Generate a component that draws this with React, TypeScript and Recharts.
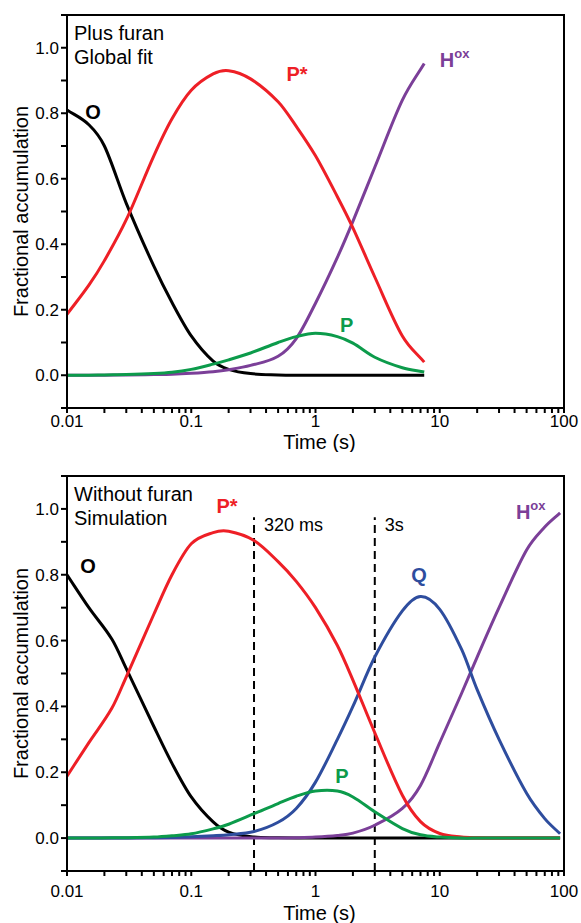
import React from 'react'
import {
  LineChart,
  Line,
  XAxis,
  YAxis,
  ReferenceArea,
  ReferenceLine,
  ReferenceDot,
} from 'recharts'

const FONT = '"Liberation Sans", Arial, Helvetica, sans-serif'
const RED = '#ee1f26'
const BLACK = '#000000'
const GREEN = '#0c9b4b'
const PURPLE = '#7b3f98'
const BLUE = '#2e4d9e'

// axis ticks (log x, linear y)
const X_TICKS = [
  0.01, 0.02, 0.03, 0.04, 0.05, 0.06, 0.07, 0.08, 0.09,
  0.1, 0.2, 0.3, 0.4, 0.5, 0.6, 0.7, 0.8, 0.9,
  1, 2, 3, 4, 5, 6, 7, 8, 9,
  10, 20, 30, 40, 50, 60, 70, 80, 90, 100,
]
const X_LABELS = [0.01, 0.1, 1, 10, 100]
const Y_TICKS = [-0.1, 0, 0.1, 0.2, 0.3, 0.4, 0.5, 0.6, 0.7, 0.8, 0.9, 1.0, 1.1]
const Y_LABELS = [0, 0.2, 0.4, 0.6, 0.8, 1.0]

// --- top panel: plus furan, global fit ---
const FIT_T = [0.01, 0.015, 0.02, 0.03, 0.05, 0.07, 0.1, 0.15, 0.2, 0.3, 0.5, 0.7, 1, 1.5, 2, 3, 5, 7.5]
const FIT_O = [0.81, 0.765, 0.7, 0.525, 0.333, 0.222, 0.12, 0.043, 0.018, 0.005, 0.001, 0, 0, 0, 0, 0, 0, 0]
const FIT_PSTAR = [0.186, 0.275, 0.35, 0.475, 0.67, 0.783, 0.87, 0.92, 0.93, 0.905, 0.835, 0.76, 0.67, 0.545, 0.45, 0.3, 0.12, 0.04]
const FIT_P = [0, 0, 0.001, 0.002, 0.005, 0.009, 0.018, 0.034, 0.047, 0.068, 0.1, 0.118, 0.128, 0.118, 0.098, 0.055, 0.023, 0.01]
const FIT_HOX = [0, 0, 0, 0.001, 0.002, 0.003, 0.006, 0.011, 0.017, 0.03, 0.058, 0.112, 0.22, 0.36, 0.47, 0.635, 0.84, 0.952]

// --- bottom panel: without furan, simulation ---
const SIM_T = [0.01, 0.015, 0.023, 0.03, 0.05, 0.07, 0.1, 0.15, 0.2, 0.32, 0.5, 0.7, 1, 1.5, 2, 3, 5, 7, 10, 15, 20, 30, 50, 70, 93]
const SIM_O = [0.8, 0.7, 0.604, 0.515, 0.339, 0.227, 0.125, 0.049, 0.018, 0.003, 0.001, 0, 0, 0, 0, 0, 0, 0, 0, 0, 0, 0, 0, 0, 0]
const SIM_PSTAR = [0.188, 0.29, 0.395, 0.49, 0.68, 0.8, 0.894, 0.928, 0.932, 0.904, 0.84, 0.78, 0.7, 0.585, 0.48, 0.32, 0.13, 0.05, 0.014, 0.003, 0.001, 0, 0, 0, 0]
const SIM_P = [0, 0, 0.001, 0.001, 0.003, 0.007, 0.013, 0.028, 0.042, 0.074, 0.105, 0.127, 0.143, 0.143, 0.125, 0.08, 0.029, 0.01, 0.003, 0, 0, 0, 0, 0, 0]
const SIM_Q = [0, 0, 0, 0, 0.001, 0.002, 0.004, 0.007, 0.01, 0.02, 0.048, 0.09, 0.17, 0.3, 0.4, 0.55, 0.69, 0.734, 0.695, 0.573, 0.451, 0.3, 0.136, 0.059, 0.013]
const SIM_HOX = [0, 0, 0, 0, 0, 0, 0, 0, 0, 0, 0, 0.001, 0.003, 0.008, 0.015, 0.039, 0.09, 0.16, 0.29, 0.44, 0.55, 0.7, 0.875, 0.945, 0.988]

// time markers in the simulation panel
const MARKERS = [
  { t: 0.32, text: '320 ms' },
  { t: 3, text: '3s' },
]

const fitData = FIT_T.map((t, i) => ({ t, o: FIT_O[i], pstar: FIT_PSTAR[i], p: FIT_P[i], hox: FIT_HOX[i] }))
const simData = SIM_T.map((t, i) => ({
  t, o: SIM_O[i], pstar: SIM_PSTAR[i], p: SIM_P[i], q: SIM_Q[i], hox: SIM_HOX[i],
}))

type Tag = { text: string; sup?: string; color: string; x: number; y: number; anchor?: 'start' | 'middle' }

const FIT_TAGS: Tag[] = [
  { text: 'O', color: BLACK, x: 0.0162, y: 0.805 },
  { text: 'P*', color: RED, x: 0.71, y: 0.92 },
  { text: 'H', sup: 'ox', color: PURPLE, x: 10, y: 0.964, anchor: 'start' },
  { text: 'P', color: GREEN, x: 1.78, y: 0.152 },
]
const SIM_TAGS: Tag[] = [
  { text: 'O', color: BLACK, x: 0.0148, y: 0.827 },
  { text: 'P*', color: RED, x: 0.194, y: 1.008 },
  { text: 'Q', color: BLUE, x: 6.8, y: 0.8 },
  { text: 'H', sup: 'ox', color: PURPLE, x: 41, y: 0.992, anchor: 'start' },
  { text: 'P', color: GREEN, x: 1.63, y: 0.188 },
]

// smooth cubic through the points, tangents from neighbouring points in screen x
// (a plain function spline, so uneven log spacing doesn't bend the curve)
function smoothX(context: any) {
  let xs: number[] = []
  let ys: number[] = []
  return {
    areaStart() {},
    areaEnd() {},
    lineStart() {
      xs = []
      ys = []
    },
    point(x: number, y: number) {
      xs.push(+x)
      ys.push(+y)
    },
    lineEnd() {
      const n = xs.length
      if (!n) return
      context.moveTo(xs[0], ys[0])
      if (n === 1) return
      const m = xs.map((_, i) => {
        const a = Math.max(0, i - 1)
        const b = Math.min(n - 1, i + 1)
        return (ys[b] - ys[a]) / (xs[b] - xs[a])
      })
      for (let i = 0; i < n - 1; i++) {
        const h = (xs[i + 1] - xs[i]) / 3
        context.bezierCurveTo(
          xs[i] + h, ys[i] + m[i] * h,
          xs[i + 1] - h, ys[i + 1] - m[i + 1] * h,
          xs[i + 1], ys[i + 1],
        )
      }
    },
  }
}

const tickStyle = { fill: '#000', fontSize: 17, fontFamily: FONT }

function YTitle({ viewBox }: any) {
  const cy = viewBox.y + viewBox.height / 2
  return (
    <text x={21} y={cy} transform={`rotate(-90, 21, ${cy})`} textAnchor="middle"
      dominantBaseline="central" fontSize={20} fontFamily={FONT} fill="#000">
      Fractional accumulation
    </text>
  )
}

function XTitle({ viewBox }: any) {
  return (
    <text x={viewBox.x + viewBox.width / 2 + 4} y={viewBox.y + viewBox.height - 3}
      textAnchor="middle" fontSize={20} fontFamily={FONT} fill="#000">
      Time (s)
    </text>
  )
}

function tagShape(tag: Tag) {
  return (props: any) => (
    <text x={props.cx} y={props.cy} textAnchor={tag.anchor ?? 'middle'} dominantBaseline="central"
      fontSize={20} fontWeight="bold" fontFamily={FONT} fill={tag.color}>
      {tag.text}
      {tag.sup && <tspan fontSize={13} dy={-7}>{tag.sup}</tspan>}
    </text>
  )
}

function cornerShape(lines: string[]) {
  return (props: any) => (
    <text fontSize={20} fontFamily={FONT} fill="#000" dominantBaseline="central">
      {lines.map((l, i) => (
        <tspan key={i} x={props.cx + 7} y={props.cy + 18 + i * 24}>{l}</tspan>
      ))}
    </text>
  )
}

function markerShape(text: string) {
  return (props: any) => (
    <text x={props.cx + 10} y={props.cy} dominantBaseline="central" fontSize={18} fontFamily={FONT} fill="#000">
      {text}
    </text>
  )
}

type PanelProps = {
  data: any[]
  height: number
  top: number
  axisHeight: number
  labelGap: number
  title: string[]
  tags: Tag[]
  series: { key: string; color: string }[]
  markers?: { t: number; text: string }[]
}

function Panel({ data, height, top, axisHeight, labelGap, title, tags, series, markers = [] }: PanelProps) {
  return (
    <LineChart width={581} height={height} data={data} margin={{ top, right: 17, bottom: 0, left: 0 }}>
      <XAxis
        dataKey="t"
        type="number"
        scale="log"
        domain={[0.01, 100]}
        allowDataOverflow
        ticks={X_TICKS}
        interval={0}
        tickFormatter={(v: number) => (X_LABELS.includes(v) ? String(v) : '')}
        tick={tickStyle}
        tickSize={5}
        tickMargin={labelGap}
        height={axisHeight}
        stroke="#000"
        strokeWidth={2}
        label={<XTitle />}
      />
      <YAxis
        type="number"
        domain={[-0.1, 1.1]}
        allowDataOverflow
        ticks={Y_TICKS}
        interval={0}
        tickFormatter={(v: number) => (Y_LABELS.includes(v) ? v.toFixed(1) : '')}
        tick={tickStyle}
        tickSize={6}
        tickMargin={2}
        width={67}
        stroke="#000"
        strokeWidth={2}
        label={<YTitle />}
      />
      <ReferenceArea x1={0.01} x2={100} y1={-0.1} y2={1.1} fill="none" stroke="#000" strokeWidth={2} ifOverflow="visible" />
      {markers.map((m) => (
        <ReferenceLine
          key={m.t}
          segment={[{ x: m.t, y: -0.1 }, { x: m.t, y: 0.975 }]}
          stroke="#000"
          strokeWidth={2}
          strokeDasharray="8 5"
          ifOverflow="visible"
        />
      ))}
      {series.map((s) => (
        <Line
          key={s.key}
          dataKey={s.key}
          type={smoothX as any}
          stroke={s.color}
          strokeWidth={3}
          dot={false}
          isAnimationActive={false}
        />
      ))}
      {markers.map((m) => (
        <ReferenceDot key={'m' + m.t} x={m.t} y={0.95} r={0} ifOverflow="visible" shape={markerShape(m.text)} />
      ))}
      {tags.map((tg) => (
        <ReferenceDot key={tg.text + tg.color} x={tg.x} y={tg.y} r={0} ifOverflow="visible" shape={tagShape(tg)} />
      ))}
      <ReferenceDot x={0.01} y={1.1} r={0} ifOverflow="visible" shape={cornerShape(title)} />
    </LineChart>
  )
}

export default function App() {
  return (
    <div style={{ position: 'absolute', left: 0, top: 0, width: 581, background: '#fff' }}>
      <Panel
        data={fitData}
        height={452}
        top={15}
        axisHeight={44}
        labelGap={2}
        title={['Plus furan', 'Global fit']}
        tags={FIT_TAGS}
        series={[
          { key: 'o', color: BLACK },
          { key: 'hox', color: PURPLE },
          { key: 'pstar', color: RED },
          { key: 'p', color: GREEN },
        ]}
      />
      <Panel
        data={simData}
        height={471}
        top={24}
        axisHeight={52}
        labelGap={9}
        title={['Without furan', 'Simulation']}
        tags={SIM_TAGS}
        markers={MARKERS}
        series={[
          { key: 'o', color: BLACK },
          { key: 'hox', color: PURPLE },
          { key: 'q', color: BLUE },
          { key: 'pstar', color: RED },
          { key: 'p', color: GREEN },
        ]}
      />
    </div>
  )
}
